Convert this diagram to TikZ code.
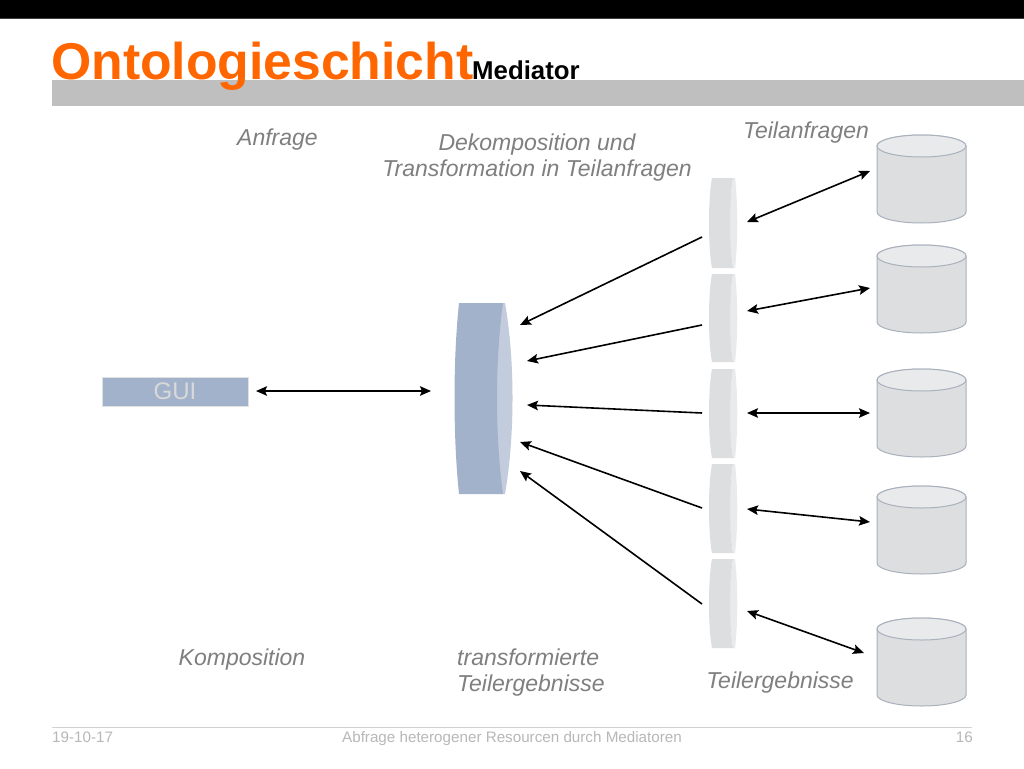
\documentclass[tikz,border=0pt]{standalone}
\usepackage{fontspec}
\setmainfont{Liberation Sans}
\usetikzlibrary{arrows.meta}
\definecolor{lensblue}{HTML}{A2B2CA}
\definecolor{lensbluelight}{HTML}{C2CCDD}
\definecolor{lensgrey}{HTML}{DCDEE0}
\definecolor{lensgreylight}{HTML}{E8EAEC}
\definecolor{cyledge}{HTML}{A9B1BC}
\definecolor{labelgrey}{HTML}{7F7F7F}
\definecolor{titleorange}{HTML}{FF6600}
\tikzset{
  x=1pt,y=-1pt,
  lbl/.style={font=\fontsize{23}{26}\selectfont\itshape,text=labelgrey,inner sep=0pt,align=center},
  foot/.style={font=\fontsize{15.2}{17}\selectfont,text=black!28,inner sep=0pt},
  conn/.style={black,line width=1.6pt,-{Stealth[length=11pt,width=9.5pt,inset=2pt]}},
  biconn/.style={black,line width=1.6pt,{Stealth[length=11pt,width=9.5pt,inset=2pt]}-{Stealth[length=11pt,width=9.5pt,inset=2pt]}},
}
% cylinder: name, top y
\newcommand{\dbcyl}[2]{%
  \fill[lensgrey,draw=cyledge,line width=1pt] (877,#2+11) -- (877,#2+77) arc[start angle=180,end angle=360,x radius=44.5,y radius=-11] -- (966,#2+11) arc[start angle=0,end angle=180,x radius=44.5,y radius=-11] -- cycle;
  \fill[lensgreylight,draw=cyledge,line width=1pt] (921.5,#2+11) ellipse[x radius=44.5,y radius=11];
  \coordinate (#1) at (921.5,#2+44);
}
% small lens: name, top y, bottom y
\newcommand{\smlens}[3]{%
  \fill[lensgreylight] (733,#2) -- (735,#2) .. controls (738,#2+25) and (738,#3-25) .. (735,#3) -- (733,#3) -- (728,#2/2+#3/2) -- cycle;
  \fill[lensgrey] (712,#2) -- (733,#2) .. controls (729,#2+25) and (729,#3-25) .. (733,#3) -- (712,#3) .. controls (708,#3-20) and (708,#2+20) .. (712,#2) -- cycle;
  \coordinate (#1) at (722,#2/2+#3/2);
}
\begin{document}
\begin{tikzpicture}
\useasboundingbox (0,0) rectangle (1024,768);
\fill[white] (0,0) rectangle (1024,768);
\fill[black] (0,0) rectangle (1024,18);
\fill[black!75] (0,18) rectangle (1024,18.6);
\fill[black!25] (52,80) rectangle (1024,106);
\node[anchor=base west,inner sep=0pt,text=titleorange,font=\fontsize{51.7}{54}\selectfont\bfseries] (title) at (51,79.5) {Ontologieschicht};
\node[anchor=base west,inner sep=0pt,text=black,font=\fontsize{25.8}{28}\selectfont\bfseries] (subtitle) at (472,79) {Mediator};

\node[lbl] (anfrage) at (277.5,140) {Anfrage};
\node[lbl] (dekomp) at (537,158) {Dekomposition und\\Transformation in Teilanfragen};
\node[lbl] (teilan) at (806,133) {Teilanfragen};
\node[lbl] (kompo) at (242,659.5) {Komposition};
\node[lbl,align=left,anchor=north west] (transf) at (457,649) {transformierte\\Teilergebnisse};
\node[lbl] (teiler) at (780,683) {Teilergebnisse};

\node[fill=lensblue,draw=black!12,line width=.6pt,minimum width=146pt,minimum height=29pt,inner sep=0pt,text=white!85!black,font=\fontsize{24}{26}\selectfont] (gui) at (175,391.5) {GUI};

% large lens
\fill[lensbluelight] (500,303) -- (505,303) .. controls (515,360) and (515,436) .. (505,494) -- (500,494) -- (495,398) -- cycle;
\fill[lensblue] (459,303) -- (503,303) .. controls (495,360) and (495,436) .. (503,494) -- (459,494) .. controls (453,436) and (453,360) .. (459,303) -- cycle;
\coordinate (med) at (480,398);

\smlens{la}{178}{268}
\smlens{lb}{274}{362}
\smlens{lc}{369}{458}
\smlens{ld}{464}{553}
\smlens{le}{559}{648}
\dbcyl{da}{135}
\dbcyl{db}{245}
\dbcyl{dc}{369}
\dbcyl{dd}{486}
\dbcyl{de}{618}

\coordinate (g1) at (256,391); \coordinate (g2) at (431,391);
\draw[biconn] (g1) -- (g2);

\coordinate (m1) at (520,325); \coordinate (s1) at (702,237);
\coordinate (m2) at (527,361); \coordinate (s2) at (702,325);
\coordinate (m3) at (527,405); \coordinate (s3) at (702,413);
\coordinate (m4) at (520,442); \coordinate (s4) at (702,508);
\coordinate (m5) at (520,471); \coordinate (s5) at (702,604);
\draw[conn] (s1) -- (m1);
\draw[conn] (s2) -- (m2);
\draw[conn] (s3) -- (m3);
\draw[conn] (s4) -- (m4);
\draw[conn] (s5) -- (m5);

\coordinate (a1) at (747,222); \coordinate (b1) at (870,171);
\coordinate (a2) at (747,311); \coordinate (b2) at (870,288);
\coordinate (a3) at (747,413); \coordinate (b3) at (870,413);
\coordinate (a4) at (747,509); \coordinate (b4) at (870,522);
\coordinate (a5) at (747,611); \coordinate (b5) at (864,653);
\draw[biconn] (a1) -- (b1);
\draw[biconn] (a2) -- (b2);
\draw[biconn] (a3) -- (b3);
\draw[biconn] (a4) -- (b4);
\draw[biconn] (a5) -- (b5);

\coordinate (fl) at (52,727.5); \coordinate (fr) at (972,727.5);
\draw[black!18,line width=1.3pt] (fl) -- (fr);
\node[foot,anchor=base west] (fdate) at (52,742) {19-10-17};
\node[foot,anchor=base] (fmid) at (512,742) {Abfrage heterogener Resourcen durch Mediatoren};
\node[foot,anchor=base east] (fnum) at (973,742) {16};
\end{tikzpicture}
\end{document}
